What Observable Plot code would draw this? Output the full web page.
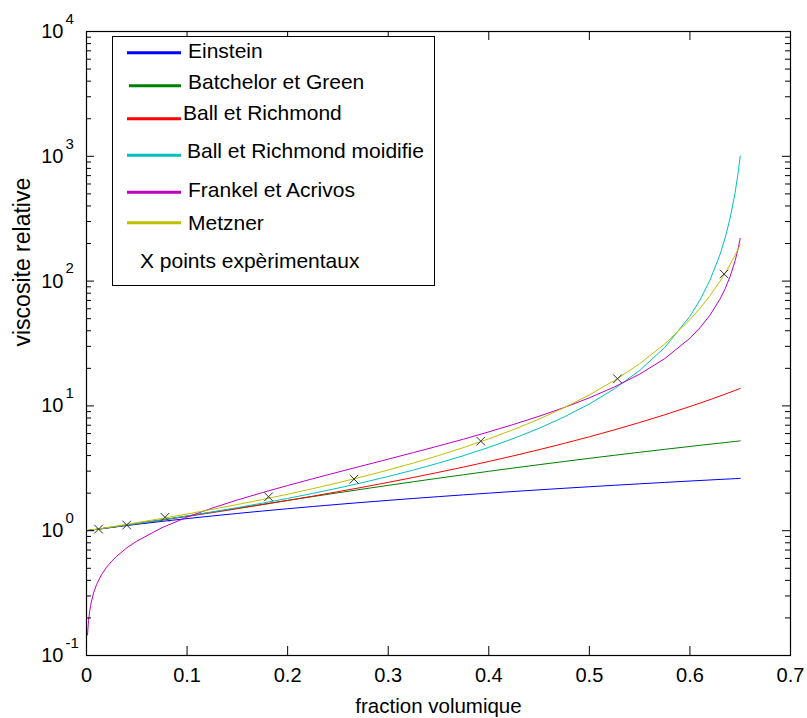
<!DOCTYPE html>
<html><head><meta charset="utf-8">
<script src="https://cdn.jsdelivr.net/npm/d3@7"></script>
<script src="https://cdn.jsdelivr.net/npm/@observablehq/plot@0.6"></script>
<style>
body{margin:0;background:#fff;}
svg text{font-family:"Liberation Sans",Arial,Helvetica,sans-serif;}
</style>
</head><body><div id="chart"></div>
<script>
// ---------- data ----------
const phi = [0,0.025,0.05,0.075,0.1,0.125,0.15,0.175,0.2,0.225,0.25,0.275,0.3,0.325,0.35,0.375,0.4,0.425,0.45,0.475,0.5,0.525,0.55,0.575,0.6,0.61,0.62,0.63,0.635,0.64,0.645,0.648,0.65];
const einstein = [1,1.0625,1.125,1.1875,1.25,1.3125,1.375,1.4375,1.5,1.5625,1.625,1.6875,1.75,1.8125,1.875,1.9375,2,2.0625,2.125,2.1875,2.25,2.3125,2.375,2.4375,2.5,2.525,2.55,2.575,2.5875,2.6,2.6125,2.62,2.625];
const batchelor = [1,1.066,1.141,1.222,1.312,1.409,1.515,1.627,1.748,1.876,2.013,2.156,2.308,2.467,2.635,2.809,2.992,3.182,3.381,3.586,3.8,4.021,4.251,4.487,4.732,4.832,4.933,5.036,5.088,5.140,5.192,5.223,5.245];
const ballRichmond = [1,1.065,1.137,1.215,1.301,1.396,1.501,1.618,1.747,1.891,2.053,2.234,2.439,2.671,2.936,3.238,3.586,3.989,4.458,5.007,5.657,6.431,7.362,8.493,9.882,10.53,11.23,12.01,12.42,12.86,13.32,13.60,13.80];
const ballModifie = [1,1.066,1.139,1.220,1.311,1.414,1.530,1.663,1.814,1.990,2.194,2.434,2.719,3.061,3.479,3.997,4.651,5.495,6.616,8.155,10.36,13.72,19.23,29.42,52.28,70.63,102.1,164.1,221.6,320.2,514.6,743.4,1005];
const metzner = [1,1.075,1.160,1.254,1.361,1.482,1.620,1.778,1.96,2.172,2.420,2.713,3.0625,3.484,4,4.639,5.444,6.479,7.84,9.679,12.25,16,21.78,31.36,49,60.49,76.56,100,116.0,136.1,162.0,181.2,196];
const phiFrankel = [0.001,0.002,0.004,0.007,0.01,0.015,0.02,0.025,0.03,0.04,0.05,0.075,0.1,0.125,0.15,0.175,0.2,0.225,0.25,0.275,0.3,0.325,0.35,0.375,0.4,0.425,0.45,0.475,0.5,0.525,0.55,0.575,0.6,0.61,0.62,0.63,0.635,0.64,0.645,0.648,0.65];
const frankel = [0.146,0.190,0.251,0.317,0.370,0.445,0.510,0.569,0.624,0.728,0.825,1.057,1.285,1.518,1.762,2.021,2.302,2.608,2.946,3.322,3.745,4.225,4.777,5.418,6.193,7.120,8.262,9.708,11.60,14.19,17.96,23.93,34.85,42.28,53.43,72.02,86.77,109.2,146.2,183.3,220.3];
const expPhi = [0.012,0.040,0.078,0.181,0.266,0.392,0.528,0.634];
const expVisc = [1.03,1.11,1.28,1.87,2.59,5.22,16.5,114];

const seriesNames = ["Einstein","Batchelor et Green","Ball et Richmond","Ball et Richmond moidifie","Frankel et Acrivos","Metzner"];
const seriesColors = ["#0000ff","#008000","#ff0000","#00bfbf","#bf00bf","#bfbf00"];
const pointsLabel = "X points expèrimentaux";

const xTicks = [0,0.1,0.2,0.3,0.4,0.5,0.6,0.7];
const xTickLabels = ["0","0.1","0.2","0.3","0.4","0.5","0.6","0.7"];
const yMajor = [0.1,1,10,100,1000,10000];
const yExp = ["-1","0","1","2","3","4"];
const yMinor = yMajor.slice(0,-1).flatMap(d => [2,3,4,5,6,7,8,9].map(k => k*d));

const xLabel = "fraction volumique";
const yLabel = "viscosite relative";

// ---------- layout ----------
const W = 807, H = 718, mL = 86, mR = 17, mT = 31, mB = 63;
const innerW = W - mL - mR, innerH = H - mT - mB;

const seriesData = [
  [phi, einstein], [phi, batchelor], [phi, ballRichmond], [phi, ballModifie], [phiFrankel, frankel], [phi, metzner]
];

const marks = [];
seriesData.forEach(([xs, ys], k) => {
  const rows = xs.map((x, i) => ({x, y: ys[i]}));
  marks.push(Plot.line(rows, {x: "x", y: "y", stroke: seriesColors[k], strokeWidth: 1}));
});
const expRows = expPhi.map((x, i) => ({x, y: expVisc[i]}));
marks.push(Plot.dot(expRows, {x: "x", y: "y", symbol: "times", r: 4, stroke: "#333", strokeWidth: 1}));

// ticks (inward, MATLAB-style box)
marks.push(Plot.tickX(xTicks, {x: d => d, insetTop: innerH - 9, stroke: "black"}));
marks.push(Plot.tickX(xTicks, {x: d => d, insetBottom: innerH - 9, stroke: "black"}));
marks.push(Plot.tickY(yMajor, {y: d => d, insetRight: innerW - 8, stroke: "black"}));
marks.push(Plot.tickY(yMajor, {y: d => d, insetLeft: innerW - 8, stroke: "black"}));
marks.push(Plot.tickY(yMinor, {y: d => d, insetRight: innerW - 5, stroke: "black"}));
marks.push(Plot.tickY(yMinor, {y: d => d, insetLeft: innerW - 5, stroke: "black"}));
marks.push(Plot.frame({stroke: "black", strokeWidth: 1.2}));

// tick labels
marks.push(Plot.text(xTicks, {x: d => d, frameAnchor: "bottom", dy: 20, text: (d, i) => xTickLabels[i], fontSize: 20, lineAnchor: "middle", fill: "black"}));
marks.push(Plot.text(yMajor, {y: d => d, frameAnchor: "left", dx: -23, textAnchor: "end", text: () => "10", fontSize: 20, lineAnchor: "middle", fill: "black"}));
marks.push(Plot.text(yMajor, {y: d => d, frameAnchor: "left", dx: -21, dy: -12.5, textAnchor: "start", text: (d, i) => yExp[i], fontSize: 15, lineAnchor: "middle", fill: "black"}));

// axis titles
marks.push(Plot.text([xLabel], {frameAnchor: "bottom", dy: 51, text: d => d, fontSize: 20.5, lineAnchor: "middle", fill: "black"}));
marks.push(Plot.text([yLabel], {frameAnchor: "left", dx: -64, dy: 3, rotate: -90, text: d => d, fontSize: 23, lineAnchor: "middle", fill: "black"}));

const svg = Plot.plot({
  width: W, height: H,
  marginLeft: mL, marginRight: mR, marginTop: mT, marginBottom: mB,
  style: {background: "#fff", color: "black", fontFamily: '"Liberation Sans", Arial, sans-serif'},
  x: {domain: [0, 0.7], axis: null},
  y: {type: "log", domain: [0.1, 10000], axis: null},
  marks
});

// ---------- legend (inside plot area, top-left) ----------
const lg = d3.select(svg).append("g").attr("class", "legend").attr("text-anchor", "start");
lg.append("rect").attr("x", 112.5).attr("y", 36.5).attr("width", 322).attr("height", 249)
  .attr("fill", "white").attr("stroke", "black").attr("stroke-width", 1);
const lineY = [52.7, 85.7, 118.7, 155.3, 192.3, 222.7];
const lineX1 = [127, 129, 127, 127, 127, 127];
const textX = [188, 188, 183, 187, 188, 188];
const textBase = [58.3, 89.3, 120, 157.7, 196.7, 230];
seriesNames.forEach((name, i) => {
  lg.append("line").attr("x1", lineX1[i]).attr("x2", 181).attr("y1", lineY[i]).attr("y2", lineY[i])
    .attr("stroke", seriesColors[i]).attr("stroke-width", 3);
  lg.append("text").attr("x", textX[i]).attr("y", textBase[i]).attr("font-size", 21)
    .attr("text-anchor", "start").attr("fill", "black").text(name);
});
lg.append("text").attr("x", 140).attr("y", 268.3).attr("font-size", 21)
  .attr("text-anchor", "start").attr("fill", "black").text(pointsLabel);

document.getElementById("chart").appendChild(svg);
</script>
</body></html>
